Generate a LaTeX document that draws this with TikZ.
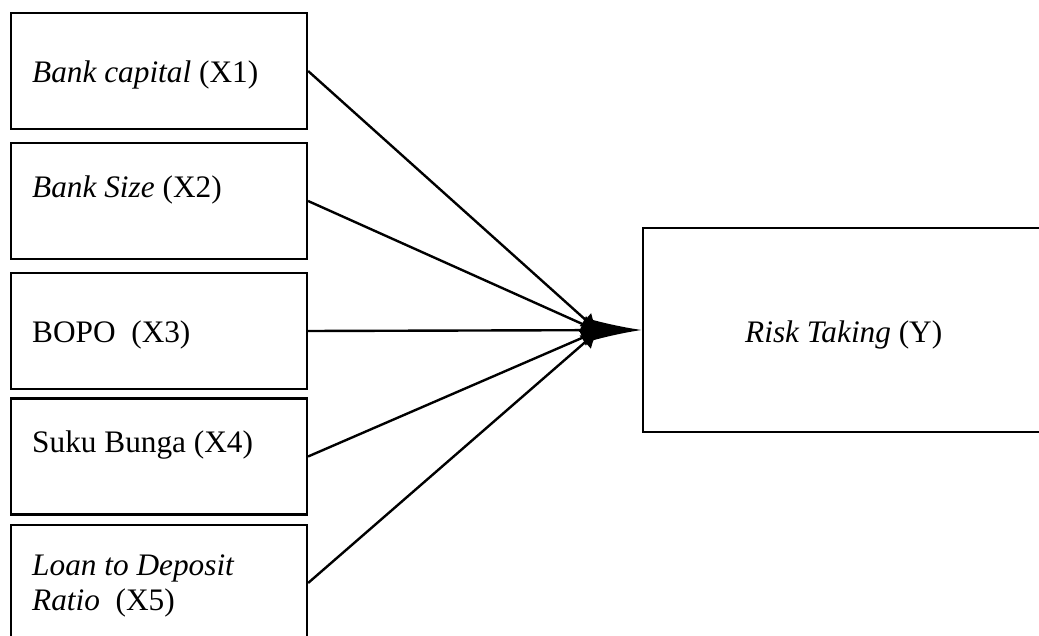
\documentclass[tikz,border=0pt]{standalone}
\usepackage{fontspec}
\setmainfont{Liberation Serif}
\usetikzlibrary{arrows.meta}
\tikzset{
  box/.style={draw, line width=2.2pt, rectangle, inner sep=0pt},
  lbl/.style={anchor=base west, inner sep=0pt, font=\fontsize{31.3}{36}\selectfont, align=left},
  conn/.style={line width=2.4pt},
}
\begin{document}
\begin{tikzpicture}[x=1pt,y=-1pt]
\useasboundingbox (0,0) rectangle (1039,636);
\clip (0,0) rectangle (1039,636);
\node[box, minimum width=296pt, minimum height=116pt] (b1) at (159,71) {};
\node[box, minimum width=296pt, minimum height=116pt] (b2) at (159,201) {};
\node[box, minimum width=296pt, minimum height=116pt] (b3) at (159,331) {};
\node[box, minimum width=296pt, minimum height=116pt] (b4) at (159,456.5) {};
\node[box, minimum width=296pt, minimum height=116pt] (b5) at (159,583) {};
\node[box, minimum width=400pt, minimum height=204pt] (y) at (843,330) {};
\node[lbl] (t1) at (32,83) {\textit{Bank capital} (X1)};
\node[lbl] (t2) at (32,198) {\textit{Bank Size} (X2)};
\node[lbl] (t3) at (32,342) {BOPO\ \ (X3)};
\node[lbl] (t4) at (32,452) {Suku Bunga (X4)};
\node[lbl] (t5) at (32,575) {\textit{Loan to Deposit}};
\node[lbl] (t5b) at (32,610) {\textit{Ratio}\ \ (X5)};
\node[lbl] (ty) at (745,342) {\textit{Risk Taking} (Y)};
\coordinate (m) at (598,331);
\draw[conn, -{Latex[length=17pt,width=18pt]}] (b1.east) -- (m);
\draw[conn, -{Latex[length=17pt,width=18pt]}] (b2.east) -- (m);
\draw[conn, -{Latex[length=17pt,width=18pt]}] (b4.east) -- (m);
\draw[conn, -{Latex[length=17pt,width=18pt]}] (b5.east) -- (m);
\draw[conn, -{Latex[length=58pt,width=26pt]}] (b3.east) -- (y.west);
\end{tikzpicture}
\end{document}
